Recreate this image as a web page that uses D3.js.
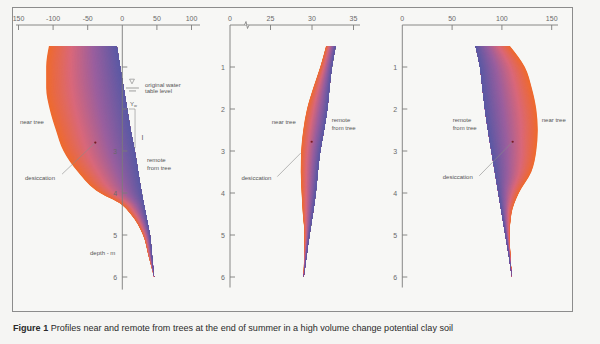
<!DOCTYPE html>
<html><head><meta charset="utf-8">
<script src="https://cdn.jsdelivr.net/npm/d3@7"></script>
<style>
html,body{margin:0;padding:0;background:#f5f5f3;}
svg{display:block;}
text{font-family:"Liberation Sans Narrow","Arial Narrow","Liberation Sans",Arial,sans-serif;}
</style></head>
<body><svg id="c" width="600" height="344"></svg>
<script>
// ---------- data ----------
const depthTicks = [1, 2, 3, 4, 5, 6];

// Panel 1 : suction-like quantity (-150 .. 100)
const p1Depths = [0.5, 1, 1.5, 2, 2.5, 3, 3.5, 4, 4.25, 4.5, 5, 5.5, 6];
const p1Near   = [-106, -110, -110, -105, -96, -85, -64, -32, -3, 12, 30, 38, 46];
const p1Remote = [-8, -3, 2, 7, 12, 18, 23, 28, 31, 34, 40, 43, 46];
const p1Ticks  = [-150, -100, -50, 0, 50, 100];
const p1TickLabels = ["150", "-100", "-50", "0", "50", "100"];
const p1DepthLabels = [3, 4, 5, 6];

// Panel 2 : water content (break 0 .. 25 .. 35)
const p2Depths = [0.5, 1, 1.5, 2, 2.5, 3, 3.5, 4, 4.5, 5, 5.5, 6];
const p2Near   = [31.7, 31.0, 30.15, 29.4, 28.95, 28.7, 28.65, 28.75, 28.9, 29.1, 29.05, 29.0];
const p2Remote = [32.85, 32.4, 32.1, 31.85, 31.45, 31.0, 30.7, 30.45, 30.1, 29.7, 29.35, 29.0];
const p2Ticks  = [25, 30, 35];
const p2TickLabels = ["25", "30", "35"];

// Panel 3 : 0 .. 150
const p3Depths = [0.5, 1, 1.5, 2, 2.5, 3, 3.5, 4, 4.5, 5, 5.5, 6];
const p3Near   = [108, 123, 130, 134.5, 136, 134.5, 129.5, 117, 109.5, 107.8, 108.6, 110];
const p3Remote = [73.5, 78, 80.5, 83, 86, 89.5, 93, 96.5, 100, 103.5, 107, 110];
const p3Ticks  = [0, 50, 100, 150];
const p3TickLabels = ["0", "50", "100", "150"];

const caption = "Profiles near and remote from trees at the end of summer in a high volume change potential clay soil";

// ---------- setup ----------
const svg = d3.select("#c");
const y = d3.scaleLinear([0, 6], [25, 277]);
const x1 = d3.scaleLinear([-150, 100], [18.5, 191.5]);
const x2 = d3.scaleLinear([25, 35], [270.5, 353.5]);
const x3 = d3.scaleLinear([0, 150], [402.3, 551.7]);

const col = d3.scaleLinear([0, 0.33, 0.65, 1], ["#ef6a2c", "#d9687a", "#9a5f9e", "#5b59a4"])
  .interpolate(d3.interpolateRgb);
const axisCol = "#7a7a7a", labCol = "#6a6a6a", annCol = "#555";

// frame
svg.append("rect").attr("x", 12.5).attr("y", 7.5).attr("width", 560).attr("height", 304)
  .attr("fill", "#f7f7f5").attr("stroke", "#8c8c8c").attr("stroke-width", 1);

function drawShape(xs, depths, near, remote) {
  const pts = depths.map((d, i) => ({d, n: near[i], r: remote[i]}));
  const N = 120;
  const g = svg.append("g");
  for (let i = 0; i < N; i++) {
    const t0 = i / N;
    const area = d3.area()
      .y(p => y(p.d))
      .x0(p => xs(p.n + t0 * (p.r - p.n)))
      .x1(p => xs(p.r))
      .curve(d3.curveMonotoneY);
    g.append("path").attr("d", area(pts)).attr("fill", col(t0 + 0.5 / N));
  }
}

function hAxis(xs, x0px, x1px, ticks, labels, tickSkip) {
  const g = svg.append("g");
  g.append("line").attr("x1", x0px).attr("x2", x1px).attr("y1", y(0)).attr("y2", y(0))
    .attr("stroke", axisCol).attr("stroke-width", 0.9);
  ticks.forEach((v, i) => {
    if (!tickSkip.includes(v)) {
      g.append("line").attr("x1", xs(v)).attr("x2", xs(v)).attr("y1", y(0)).attr("y2", y(0) + 5)
        .attr("stroke", axisCol).attr("stroke-width", 0.9);
    }
    g.append("text").attr("x", xs(v)).attr("y", 20.5).attr("text-anchor", "middle")
      .attr("font-size", 7).attr("fill", labCol).text(labels[i]);
  });
}

function vAxis(xpx, bottomDepth, labelDepths) {
  const g = svg.append("g");
  g.append("line").attr("x1", xpx).attr("x2", xpx).attr("y1", y(0)).attr("y2", y(bottomDepth))
    .attr("stroke", axisCol).attr("stroke-width", 0.9);
  depthTicks.forEach(d => {
    g.append("line").attr("x1", xpx).attr("x2", xpx + 5).attr("y1", y(d)).attr("y2", y(d))
      .attr("stroke", axisCol).attr("stroke-width", 0.9);
  });
  labelDepths.forEach(d => {
    g.append("text").attr("x", xpx - 7).attr("y", y(d) + 2.5).attr("text-anchor", "middle")
      .attr("font-size", 7).attr("fill", labCol).text(d);
  });
}

function label(xs, v, d, lines, anchor) {
  const t = svg.append("text").attr("font-size", 6).attr("fill", annCol)
    .attr("text-anchor", anchor || "start");
  lines.forEach((s, i) => t.append("tspan").attr("x", xs(v)).attr("y", y(d) + i * 8).text(s));
}
function leader(xs, a, b) {
  svg.append("line").attr("x1", xs(a[0])).attr("y1", y(a[1])).attr("x2", xs(b[0])).attr("y2", y(b[1]))
    .attr("stroke", "#8a8a8a").attr("stroke-width", 0.6);
}
function dot(xs, v, d) {
  svg.append("circle").attr("cx", xs(v)).attr("cy", y(d)).attr("r", 1.1).attr("fill", "#7a1a20");
}

// ---------- panel 1 ----------
drawShape(x1, p1Depths, p1Near, p1Remote);
hAxis(x1, 16, 200, p1Ticks, p1TickLabels, [0]);
vAxis(x1(0), 6.3, p1DepthLabels);
// water table symbol
svg.append("path")
  .attr("d", `M${x1(10.5)},${y(1.29)} L${x1(17.5)},${y(1.29)} L${x1(14)},${y(1.4)} Z`)
  .attr("fill", "none").attr("stroke", axisCol).attr("stroke-width", 0.6);
svg.append("line").attr("x1", x1(5.3)).attr("x2", x1(24)).attr("y1", y(1.5)).attr("y2", y(1.5))
  .attr("stroke", axisCol).attr("stroke-width", 0.7);
svg.append("line").attr("x1", x1(9.7)).attr("x2", x1(19.8)).attr("y1", y(1.57)).attr("y2", y(1.57))
  .attr("stroke", axisCol).attr("stroke-width", 0.7);
label(x1, 32.8, 1.48, ["original water"]);
label(x1, 32.8, 1.63, ["table level"]);
// Yw bracket
const yw = svg.append("text").attr("x", x1(11)).attr("y", y(1.93)).attr("font-size", 6).attr("fill", annCol);
yw.append("tspan").text("Y");
yw.append("tspan").attr("font-size", 4).attr("dy", 1).text("w");
svg.append("path").attr("d", `M${x1(9.7)},${y(2.0)} L${x1(18.4)},${y(2.0)} L${x1(18.4)},${y(2.93)}`)
  .attr("fill", "none").attr("stroke", "#8a8a8a").attr("stroke-width", 0.6);
svg.append("text").attr("x", x1(27.7)).attr("y", y(2.74)).attr("font-size", 7).attr("fill", annCol)
  .attr("font-family", "Liberation Serif, serif").text("I");
label(x1, -148, 2.36, ["near tree"]);
label(x1, 35.7, 3.26, ["remote", "from tree"]);
label(x1, -140.6, 3.69, ["desiccation"]);
leader(x1, [-87, 3.55], [-39, 2.8]);
dot(x1, -39, 2.8);
label(x1, -46.7, 5.48, ["depth - m"]);

// ---------- panel 2 ----------
drawShape(x2, p2Depths, p2Near, p2Remote);
hAxis(x2, 230, 360, p2Ticks, p2TickLabels, []);
svg.append("text").attr("x", 230).attr("y", 20.5).attr("text-anchor", "middle")
  .attr("font-size", 7).attr("fill", labCol).text("0");
// axis break
svg.append("path").attr("d", `M244.5,${y(0)} L246,${y(0) - 3.5} L247.5,${y(0) + 3.5} L249,${y(0)}`)
  .attr("fill", "#f7f7f5").attr("stroke", axisCol).attr("stroke-width", 0.8);
vAxis(230, 6.25, depthTicks);
label(x2, 25.15, 2.36, ["near tree"]);
label(x2, 32.37, 2.31, ["remote", "from tree"]);
label(x2, 21.5, 3.69, ["desiccation"]);
leader(x2, [25.82, 3.61], [28.64, 3.05]);
dot(x2, 29.96, 2.78);

// ---------- panel 3 ----------
drawShape(x3, p3Depths, p3Near, p3Remote);
hAxis(x3, 402.3, 558, p3Ticks, p3TickLabels, [0]);
vAxis(x3(0), 6.25, depthTicks);
label(x3, 50.6, 2.3, ["remote", "from tree"]);
label(x3, 140, 2.31, ["near tree"]);
label(x3, 40.6, 3.67, ["desiccation"]);
leader(x3, [77.3, 3.59], [110.8, 2.78]);
dot(x3, 110.8, 2.78);

// ---------- caption ----------
const cap = svg.append("text").attr("x", 13).attr("y", 331).attr("font-size", 9.5).attr("fill", "#2a2a2a")
  .attr("textLength", 440).attr("lengthAdjust", "spacingAndGlyphs");
cap.append("tspan").attr("font-weight", "bold").text("Figure 1 ");
cap.append("tspan").text(caption);
</script>
</body></html>
